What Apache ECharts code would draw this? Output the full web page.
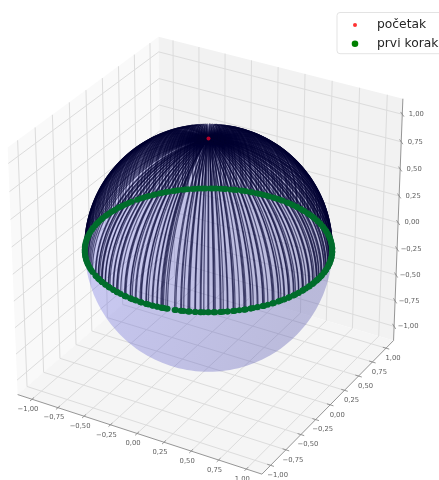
<!DOCTYPE html>
<html>
<head>
<meta charset="utf-8">
<style>html,body{margin:0;padding:0;background:#fff}#c{width:439px;height:480px;filter:blur(0.35px)}</style>
<script src="https://cdn.jsdelivr.net/npm/echarts@6/dist/echarts.min.js"></script>
</head>
<body>
<div id="c"></div>
<script>
// Values
const startPoint = [0, 0, 1];
const seriesNames = ['početak', 'prvi korak'];
// azimuth (degrees) of each first-step point on the unit sphere's equator
const firstStepAzimuth = [
0.9,1.3,3.1,3.9,4.4,6.9,7.2,8.6,9.5,10.0,12.4,12.6,13.9,15.1,15.6,15.9,18.1,18.4,20.3,21.2,21.5,23.9,24.2,25.6,26.3,26.8,29.2,29.5,30.6,32.7,33.9,35.6,36.8,38.1,39.7,40.4,
42.2,43.5,45.6,46.1,47.9,49.4,50.7,52.8,53.6,55.9,56.4,58.6,59.8,61.2,62.7,64.3,65.1,67.4,68.8,70.2,72.6,73.1,75.3,76.9,78.4,79.2,81.7,83.1,84.6,86.2,87.3,89.5,
90.8,92.3,93.9,95.2,96.4,98.7,99.3,101.6,103.2,104.1,106.5,107.8,109.4,111.7,112.6,114.2,116.3,117.9,119.1,121.4,122.8,124.5,126.2,127.7,129.9,131.3,132.6,134.8,136.1,137.4,139.7,
141.2,142.9,144.3,146.6,147.5,149.8,151.1,152.7,154.4,156.5,159.7,161.6,163.7,165.4,166.9,168.3,170.6,171.8,173.5,175.2,176.9,178.1,180.4,181.7,183.6,185.2,186.8,188.3,190.7,191.9,193.4,
195.6,196.8,198.9,200.3,201.7,203.5,205.1,206.9,208.2,209.4,211.3,212.8,214.1,215.9,217.4,218.6,220.3,221.5,223.2,224.7,225.4,227.3,228.9,230.6,232.5,
236.0,236.6,238.9,239.2,240.3,242.0,242.5,242.9,245.2,245.5,247.8,248.1,249.0,251.2,251.6,253.7,254.0,254.6,256.4,258.8,259.2,259.7,262.1,262.4,263.3,265.0,265.5,267.6,268.1,268.4,270.7,271.0,272.0,273.9,274.3,276.2,276.5,278.2,278.6,279.0,279.5,280.6,281.4,
284.7,285.3,287.5,287.9,288.9,290.8,291.2,291.6,293.9,294.2,296.3,296.7,297.9,299.7,300.1,302.2,302.5,303.0,305.2,305.6,306.6,308.4,308.7,311.0,311.3,311.9,313.9,316.0,316.4,316.9,319.1,319.4,320.4,322.3,322.7,325.0,325.3,325.8,327.6,329.9,330.3,330.8,333.1,333.4,334.5,336.2,336.6,338.8,339.0,339.6,341.8,342.2,343.1,345.0,345.3,347.6,347.9,348.5,350.2,352.3,352.7,353.2,355.4,355.8,356.8,358.6,359.0,359.5
];
const tickValues = [-1, -0.75, -0.5, -0.25, 0, 0.25, 0.5, 0.75, 1];
const tickLabels = ['−1,00', '−0,75', '−0,50', '−0,25', '0,00', '0,25', '0,50', '0,75', '1,00'];

// Matplotlib-style view: azim -60, elev 30
const H = 1.14, D = 20 * H, K = 141 / H, CX = 208.5, CY = 248;
const az = -60 * Math.PI / 180, el = 30 * Math.PI / 180;
const W = [Math.cos(el) * Math.cos(az), Math.cos(el) * Math.sin(az), Math.sin(el)];
const U = [-Math.sin(az), Math.cos(az), 0];
const V = [-Math.sin(el) * Math.cos(az), -Math.sin(el) * Math.sin(az), Math.cos(el)];
const dot = (a, b) => a[0] * b[0] + a[1] * b[1] + a[2] * b[2];
function project(p) {
  const f = D / (D - dot(p, W));
  return [CX + K * f * dot(p, U), CY - K * f * dot(p, V)];
}
const segment = (a, b) => ({ coords: [project(a), project(b)] });

// panes
const panes = [
  { pts: [[-H,-H,-H],[-H,H,-H],[-H,H,H],[-H,-H,H]], color: '#f9f9f9' },
  { pts: [[-H,H,-H],[H,H,-H],[H,H,H],[-H,H,H]], color: '#f2f2f2' },
  { pts: [[-H,-H,-H],[H,-H,-H],[H,H,-H],[-H,H,-H]], color: '#f5f5f5' }
].map(p => ({ pts: p.pts.map(project), color: p.color }));

// grid lines
const gridLines = [];
tickValues.forEach(t => {
  gridLines.push(segment([t,-H,-H],[t,H,-H]), segment([t,H,-H],[t,H,H]));
  gridLines.push(segment([-H,t,-H],[H,t,-H]), segment([-H,t,-H],[-H,t,H]));
  gridLines.push(segment([-H,-H,t],[-H,H,t]), segment([-H,H,t],[H,H,t]));
});
// axes and ticks
const axisLines = [
  segment([-H,-H,-H],[H,-H,-H]), segment([H,-H,-H],[H,H,-H]), segment([H,H,-H],[H,H,H])
];
tickValues.forEach(t => {
  axisLines.push(segment([t,-H+0.03,-H],[t,-H-0.03,-H]));
  axisLines.push(segment([H-0.03,t,-H],[H+0.03,t,-H]));
  axisLines.push(segment([H-0.03,H+0.03,t],[H+0.03,H-0.03,t]));
});

// tick labels
const labelPts = [];
tickValues.forEach((t, i) => {
  let a = project([t,-H,-H]); labelPts.push({ value: [a[0]-4, a[1]+10], text: tickLabels[i] });
  a = project([H,t,-H]); labelPts.push({ value: [a[0]+7, a[1]+10], text: tickLabels[i] });
  a = project([H,H,t]); labelPts.push({ value: [a[0]+14, a[1]], text: tickLabels[i] });
});

// sphere outline
const outline = [];
{
  const c = 1 / D, r = Math.sqrt(1 - c * c);
  for (let i = 0; i < 180; i++) {
    const t = i / 180 * 2 * Math.PI;
    outline.push(project([0,1,2].map(k => W[k] * c + r * (Math.cos(t) * U[k] + Math.sin(t) * V[k]))));
  }
}

const rad = d => d * Math.PI / 180;
const meridians = firstStepAzimuth.map(a => {
  const coords = [];
  for (let i = 0; i <= 30; i++) {
    const ph = rad(i * 3);
    coords.push(project([Math.sin(ph) * Math.cos(rad(a)), Math.sin(ph) * Math.sin(rad(a)), Math.cos(ph)]));
  }
  return { coords };
});
const ring = firstStepAzimuth.map(a => project([Math.cos(rad(a)), Math.sin(rad(a)), 0]));

const polyItem = (pts, api, fill) => ({
  type: 'polygon',
  shape: { points: pts.map(p => api.coord(p)) },
  style: { fill }
});

const chart = echarts.init(document.getElementById('c'), null, { renderer: 'canvas' });
chart.setOption({
  animation: false,
  backgroundColor: '#fff',
  textStyle: { fontFamily: 'DejaVu Sans' },
  grid: { left: 0, right: 0, top: 0, bottom: 0 },
  xAxis: { type: 'value', min: 0, max: 439, show: false },
  yAxis: { type: 'value', min: 0, max: 480, inverse: true, show: false },
  legend: {
    left: 337, top: 12.5, orient: 'vertical', selectedMode: false,
    padding: [5.5, 70, 3, 1], itemGap: 4.7, itemWidth: 34, itemHeight: 14,
    backgroundColor: 'rgba(255,255,255,0.8)', borderColor: '#dcdcdc', borderWidth: 0.8, borderRadius: 3,
    textStyle: { fontFamily: 'DejaVu Sans', fontSize: 12.3, color: '#262626' },
    data: [
      { name: seriesNames[0], icon: 'path://M0 0L0 0M34 14L34 14M15 7a2 2 0 1 0 4 0a2 2 0 1 0-4 0Z', itemStyle: { color: '#ff0000' } },
      { name: seriesNames[1], icon: 'path://M0 0L0 0M34 14L34 14M13.7 7a3.3 3.3 0 1 0 6.6 0a3.3 3.3 0 1 0-6.6 0Z', itemStyle: { color: '#008000' } }
    ]
  },
  series: [
    {
      type: 'custom', coordinateSystem: 'cartesian2d', silent: true, z: 1,
      data: panes.map((p, i) => i),
      encode: { x: 0 },
      renderItem: (params, api) => polyItem(panes[params.dataIndex].pts, api, panes[params.dataIndex].color)
    },
    {
      type: 'lines', coordinateSystem: 'cartesian2d', silent: true, z: 2, polyline: false,
      data: gridLines, lineStyle: { color: '#dcdcdc', width: 1, opacity: 1 }
    },
    {
      type: 'lines', coordinateSystem: 'cartesian2d', silent: true, z: 3, polyline: false,
      data: axisLines, lineStyle: { color: '#8a8a8a', width: 0.9, opacity: 1 }
    },
    {
      type: 'scatter', coordinateSystem: 'cartesian2d', silent: true, z: 4,
      symbolSize: 1, itemStyle: { color: 'rgba(0,0,0,0)' }, data: labelPts,
      label: {
        show: true, position: 'inside', align: 'center', verticalAlign: 'middle',
        fontFamily: 'DejaVu Sans', fontSize: 6.8, color: '#333',
        formatter: p => p.data.text
      }
    },
    {
      type: 'custom', coordinateSystem: 'cartesian2d', silent: true, z: 5,
      data: [0], encode: { x: 0 },
      renderItem: (params, api) => polyItem(outline, api, new echarts.graphic.LinearGradient(0, 0, 1, 0.3, [
        { offset: 0, color: 'rgba(100,100,235,0.31)' },
        { offset: 1, color: 'rgba(85,85,175,0.36)' }
      ]))
    },
    {
      type: 'lines', coordinateSystem: 'cartesian2d', silent: true, z: 6, polyline: true,
      data: meridians, lineStyle: { color: '#000030', width: 1.25, opacity: 0.6 }
    },
    {
      name: seriesNames[1], type: 'scatter', coordinateSystem: 'cartesian2d', silent: true, z: 7,
      symbolSize: 6, data: ring, itemStyle: { color: '#006d2c', opacity: 1 }
    },
    {
      name: seriesNames[0], type: 'scatter', coordinateSystem: 'cartesian2d', silent: true, z: 8,
      symbolSize: 4, data: [project(startPoint)], itemStyle: { color: '#e0002a' }
    }
  ]
});
</script>
</body>
</html>
